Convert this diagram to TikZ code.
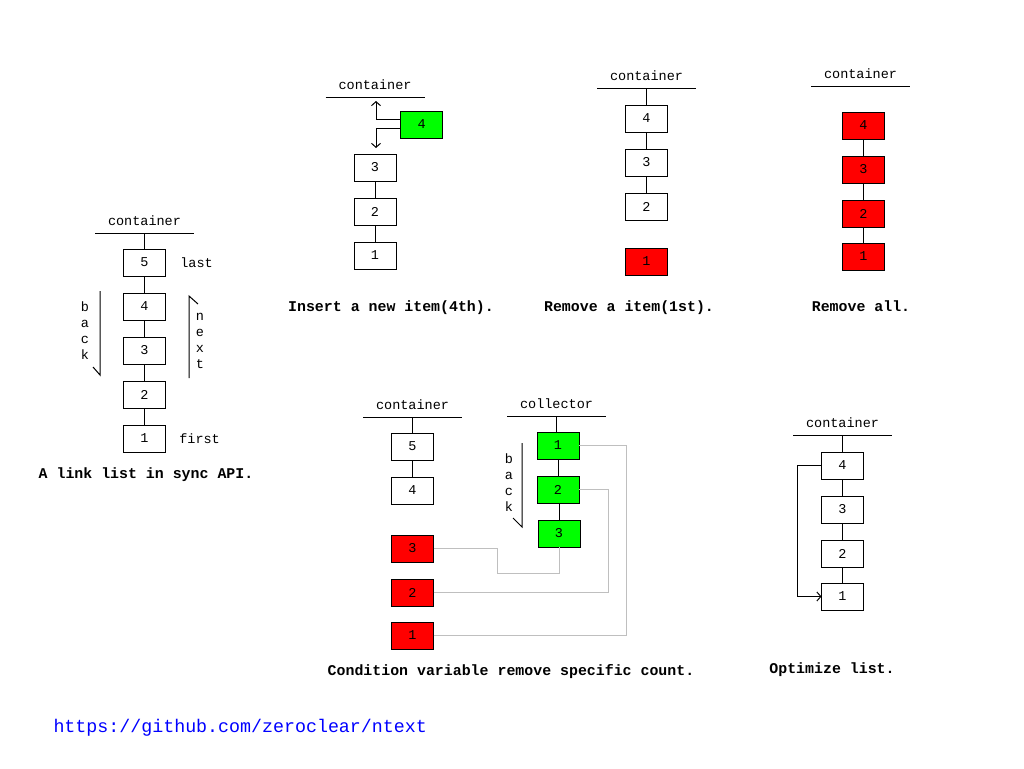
\documentclass[tikz,border=0pt]{standalone}
\usepackage{fontspec}
\setmonofont{Liberation Mono}
\usetikzlibrary{positioning,arrows.meta}

\begin{document}
\begin{tikzpicture}[x=1pt,y=-1pt,
        line width=1pt,
        node distance=17pt,
        every node/.style={font=\ttfamily\fontsize{13.5}{16}\selectfont},
        item/.style={draw, minimum width=42pt, minimum height=27pt, inner sep=0pt, outer sep=0pt},
        del/.style={item, fill=red},
        got/.style={item, fill=green},
        head/.style={anchor=south, minimum width=99pt, inner xsep=0pt, inner ysep=8pt, outer sep=0pt, text depth=0pt},
        caption/.style={font=\ttfamily\bfseries\fontsize{14.9}{16}\selectfont},
        letters/.style={align=center, inner sep=0pt},
        link/.style={draw=black!25},
        >={Straight Barb[length=4pt,width=9pt]}]

    \fill[white] (0,0) rectangle (1024,768);
    \useasboundingbox (0,0) rectangle (1024,768);

    % sync API list
    \node[head] (c1) at (144.5,233) {container};
    \node[item, below=16pt of c1] (a5) {5};
    \node[item, below=of a5] (a4) {4};
    \node[item, below=of a4] (a3) {3};
    \node[item, below=of a3] (a2) {2};
    \node[item, below=of a2] (a1) {1};
    \draw (c1.south west) -- (c1.south east);
    \draw (c1.south) -- (a5) -- (a4) -- (a3) -- (a2) -- (a1);
    \node[right=11pt of a5] (last) {last};
    \node[right=10pt of a1] (first) {first};
    \node[letters] (back1) at (85,331) {b\\a\\c\\k};
    \node[letters] (next1) at (200,341) {n\\e\\x\\t};
    \draw (100,291) -- (100,375) -- (93,367);
    \draw (189,378) -- (189,296) -- (198,304);
    \node[caption] (t1) at (146,475) {A link list in sync API.};

    % insert
    \node[head] (c2) at (375,97) {container};
    \node[item, below=57pt of c2] (b3) {3};
    \node[item, below=of b3] (b2) {2};
    \node[item, below=of b2] (b1) {1};
    \node[got] (b4) at (421.7,124.5) {4};
    \draw (c2.south west) -- (c2.south east);
    \draw (b3) -- (b2) -- (b1);
    \coordinate (up) at (376,101);
    \coordinate (down) at (376,148);
    \draw[->] ([yshift=5pt]b4.west) -| (up);
    \draw[->] ([yshift=-4pt]b4.west) -| (down);
    \node[caption] (t2) at (391,308) {Insert a new item(4th).};

    % remove one
    \node[head] (c3) at (646.5,88) {container};
    \node[item, below=17pt of c3] (d4) {4};
    \node[item, below=of d4] (d3) {3};
    \node[item, below=of d3] (d2) {2};
    \node[del, below=28pt of d2] (d1) {1};
    \draw (c3.south west) -- (c3.south east);
    \draw (c3.south) -- (d4) -- (d3) -- (d2);
    \node[caption] (t3) at (629,308) {Remove a item(1st).};

    % remove all
    \node[head] (c4) at (860.5,86) {container};
    \node[del, below=26pt of c4, xshift=3pt] (e4) {4};
    \node[del, below=of e4] (e3) {3};
    \node[del, below=of e3] (e2) {2};
    \node[del, below=16pt of e2] (e1) {1};
    \draw (c4.south west) -- (c4.south east);
    \draw (e4) -- (e3) -- (e2) -- (e1);
    \node[caption] (t4) at (861,306) {Remove all.};

    % condition variable
    \node[head] (c5) at (412.5,417) {container};
    \node[item, below=16pt of c5] (f5) {5};
    \node[item, below=of f5] (f4) {4};
    \node[del, below=31pt of f4] (r3) {3};
    \node[del, below=of r3] (r2) {2};
    \node[del, below=16pt of r2] (r1) {1};
    \draw (c5.south west) -- (c5.south east);
    \draw (c5.south) -- (f5) -- (f4);
    \node[head] (k0) at (556.5,416) {collector};
    \node[got, below=16pt of k0, xshift=1.5pt] (k1) {1};
    \node[got, below=of k1] (k2) {2};
    \node[got, below=of k2, xshift=1pt] (k3) {3};
    \draw (k0.south west) -- (k0.south east);
    \draw (k0.south) -- (k0.south |- k1.north);
    \draw (k1) -- (k2);
    \draw (k3.north) -- (k3.north |- k2.south);
    \node[letters] (back5) at (509,482.5) {b\\a\\c\\k};
    \draw (522,443) -- (522,527) -- (513,518);
    \draw[link] (r3.east) -- ++(64,0) -- ++(0,24.5) -| (k3.south);
    \draw[link] (r2.east) -- ++(175,0) |- (k2.east);
    \draw[link] (r1.east) -- ++(193,0) |- (k1.east);
    \node[caption] (t5) at (511,672) {Condition variable remove specific count.};

    % optimize
    \node[head] (c6) at (842.5,435) {container};
    \node[item, below=17pt of c6] (o4) {4};
    \node[item, below=of o4] (o3) {3};
    \node[item, below=of o3] (o2) {2};
    \node[item, below=16pt of o2] (o1) {1};
    \draw (c6.south west) -- (c6.south east);
    \draw (c6.south) -- (o4) -- (o3) -- (o2) -- (o1);
    \draw[->] (o4.west) -- ++(-24,0) |- (o1.west);
    \node[caption] (t6) at (832,670) {Optimize list.};

    \node[anchor=west, inner sep=0pt, text=blue, font=\ttfamily\fontsize{18.3}{20}\selectfont] (url) at (53,728) {https://github.com/zeroclear/ntext};
\end{tikzpicture}
\end{document}
